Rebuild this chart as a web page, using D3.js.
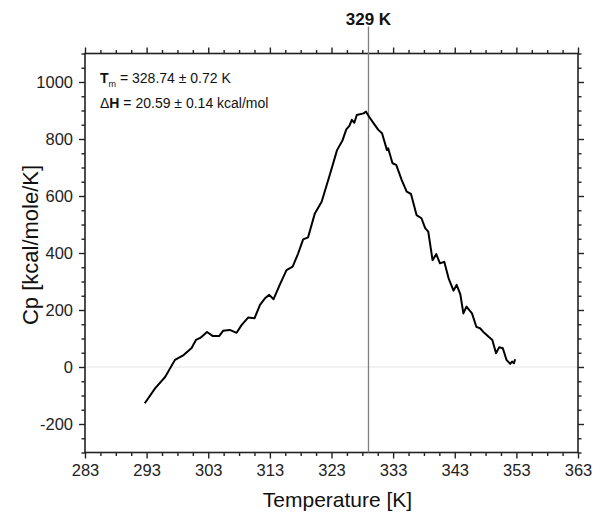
<!DOCTYPE html>
<html>
<head>
<meta charset="utf-8">
<script src="https://cdn.jsdelivr.net/npm/d3@7"></script>
<style>
    body { margin: 0; background: #fff; }
    text { font-family: "Liberation Sans", Arial, Helvetica, sans-serif; }
</style>
</head>
<body>
<svg id="chart" width="600" height="516"></svg>
<script>
// temperature [K] and Cp [kcal/mole/K]
var temps = [292.7, 294.4, 296.0, 297.6, 299.0, 300.3, 301.0, 301.7, 302.8, 303.7,
             304.8, 305.4, 306.5, 307.6, 308.4, 309.5, 310.5, 311.4, 312.2, 312.9,
             313.6, 314.6, 315.7, 316.7, 317.6, 318.4, 319.2, 320.3, 321.4, 322.8,
             323.9, 324.8, 325.4, 325.9, 326.3, 326.7, 327.1, 328.2, 328.6, 329.1,
             329.9, 330.6, 331.2, 332.0, 332.2, 332.9, 333.5, 334.4, 335.2, 335.9,
             336.8, 337.6, 338.2, 338.7, 339.4, 340.0, 340.6, 341.3, 342.0, 342.8,
             343.3, 343.9, 344.4, 344.9, 345.8, 346.5, 347.1, 347.6, 348.5, 349.1,
             349.7, 350.2, 350.8, 351.4, 352.0, 352.3, 352.6, 352.8];
var cp = [-127, -74, -35, 25, 42, 67, 95, 102, 123, 109,
          109, 127, 130, 120, 147, 174, 171, 218, 241, 253,
          238, 288, 340, 352, 399, 448, 455, 539, 580, 680,
          761, 796, 834, 846, 867, 857, 884, 890, 896, 878,
          853, 832, 820, 761, 767, 715, 709, 656, 615, 607,
          533, 522, 487, 475, 375, 396, 364, 369, 311, 268,
          288, 256, 188, 212, 188, 141, 136, 124, 106, 95,
          48, 69, 66, 25, 11, 19, 13, 27];

var xTicks = [283, 293, 303, 313, 323, 333, 343, 353, 363];
var yTicks = [-200, 0, 200, 400, 600, 800, 1000];
var tmLine = 329;
var tmLabel = "329 K";
var fitLines = [
    { sym: "T", sub: "m", pre: "", rest: " = 328.74 ± 0.72 K" },
    { sym: "H", sub: "", pre: "Δ", rest: " = 20.59 ± 0.14 kcal/mol" }
];

var svg = d3.select("#chart");
var margin = { top: 53.5, right: 22, bottom: 63.5, left: 85 };
var w = 600 - margin.left - margin.right;
var h = 516 - margin.top - margin.bottom;

var x = d3.scaleLinear().domain([283, 363]).range([0, w]);
var y = d3.scaleLinear().domain([-300, 1100]).range([h, 0]);

var g = svg.append("g").attr("transform", `translate(${margin.left},${margin.top})`);

// plain hyphen for negatives like the original
var fmt = d => String(d);

// light zero line
g.append("line")
    .attr("x1", 0).attr("x2", w)
    .attr("y1", y(0)).attr("y2", y(0))
    .attr("stroke", "#e4e4e4").attr("stroke-width", 1);

// minor ticks every 2.5 K and 50 units
var xMinor = d3.range(283, 363.01, 2.5).filter(d => xTicks.indexOf(d) < 0);
var yMinor = d3.range(-300, 1100.01, 50).filter(d => yTicks.indexOf(d) < 0);

function styleAxis(sel) {
    sel.select(".domain").remove();
    sel.selectAll("line").attr("stroke", "#222").attr("stroke-width", 1.4);
    sel.selectAll("text").style("font-size", "16.5px").attr("fill", "#222");
}

g.append("g").attr("transform", `translate(0,${h})`)
    .call(d3.axisBottom(x).tickValues(xTicks).tickSize(6).tickPadding(6).tickFormat(fmt))
    .call(styleAxis);
g.append("g").attr("transform", `translate(0,${h})`)
    .call(d3.axisBottom(x).tickValues(xMinor).tickSize(3.5).tickFormat(""))
    .call(styleAxis);
g.append("g")
    .call(d3.axisTop(x).tickValues(xTicks).tickSize(6).tickFormat(""))
    .call(styleAxis);
g.append("g")
    .call(d3.axisTop(x).tickValues(xMinor).tickSize(3.5).tickFormat(""))
    .call(styleAxis);

g.append("g")
    .call(d3.axisLeft(y).tickValues(yTicks).tickSize(6).tickPadding(6).tickFormat(fmt))
    .call(styleAxis);
g.append("g")
    .call(d3.axisLeft(y).tickValues(yMinor).tickSize(3.5).tickFormat(""))
    .call(styleAxis);
g.append("g").attr("transform", `translate(${w},0)`)
    .call(d3.axisRight(y).tickValues(yTicks).tickSize(6).tickFormat(""))
    .call(styleAxis);
g.append("g").attr("transform", `translate(${w},0)`)
    .call(d3.axisRight(y).tickValues(yMinor).tickSize(3.5).tickFormat(""))
    .call(styleAxis);

// frame
g.append("rect")
    .attr("width", w).attr("height", h)
    .attr("fill", "none").attr("stroke", "#222").attr("stroke-width", 1.6);

// melting temperature marker
g.append("line")
    .attr("x1", x(tmLine)).attr("x2", x(tmLine))
    .attr("y1", -27).attr("y2", h)
    .attr("stroke", "#808080").attr("stroke-width", 1.3);
g.append("text")
    .attr("x", x(tmLine)).attr("y", -29)
    .attr("text-anchor", "middle")
    .style("font-size", "17px").style("font-weight", "bold")
    .attr("fill", "#111")
    .text(tmLabel);

// thermogram
var line = d3.line().x((d, i) => x(temps[i])).y(d => y(d));
g.append("path")
    .datum(cp)
    .attr("d", line)
    .attr("fill", "none")
    .attr("stroke", "#000")
    .attr("stroke-width", 2)
    .attr("stroke-linejoin", "round");

// fit results
fitLines.forEach(function(f, i) {
    var t = g.append("text")
        .attr("x", 15).attr("y", 29.5 + i * 24.5)
        .style("font-size", "14px").attr("fill", "#111");
    if (f.pre) t.append("tspan").text(f.pre);
    t.append("tspan").style("font-weight", "bold").text(f.sym);
    if (f.sub) {
        t.append("tspan").style("font-size", "9px").attr("dy", 4).text(f.sub);
        t.append("tspan").attr("dy", -4).text(f.rest);
    } else {
        t.append("tspan").text(f.rest);
    }
});

// axis titles
svg.append("text")
    .attr("x", margin.left + w / 2 + 6).attr("y", 507)
    .attr("text-anchor", "middle")
    .style("font-size", "21px").attr("fill", "#111")
    .text("Temperature [K]");
svg.append("text")
    .attr("transform", "translate(38,245) rotate(-90)")
    .attr("text-anchor", "middle")
    .style("font-size", "22px").attr("fill", "#111")
    .text("Cp [kcal/mole/K]");
</script>
</body>
</html>
